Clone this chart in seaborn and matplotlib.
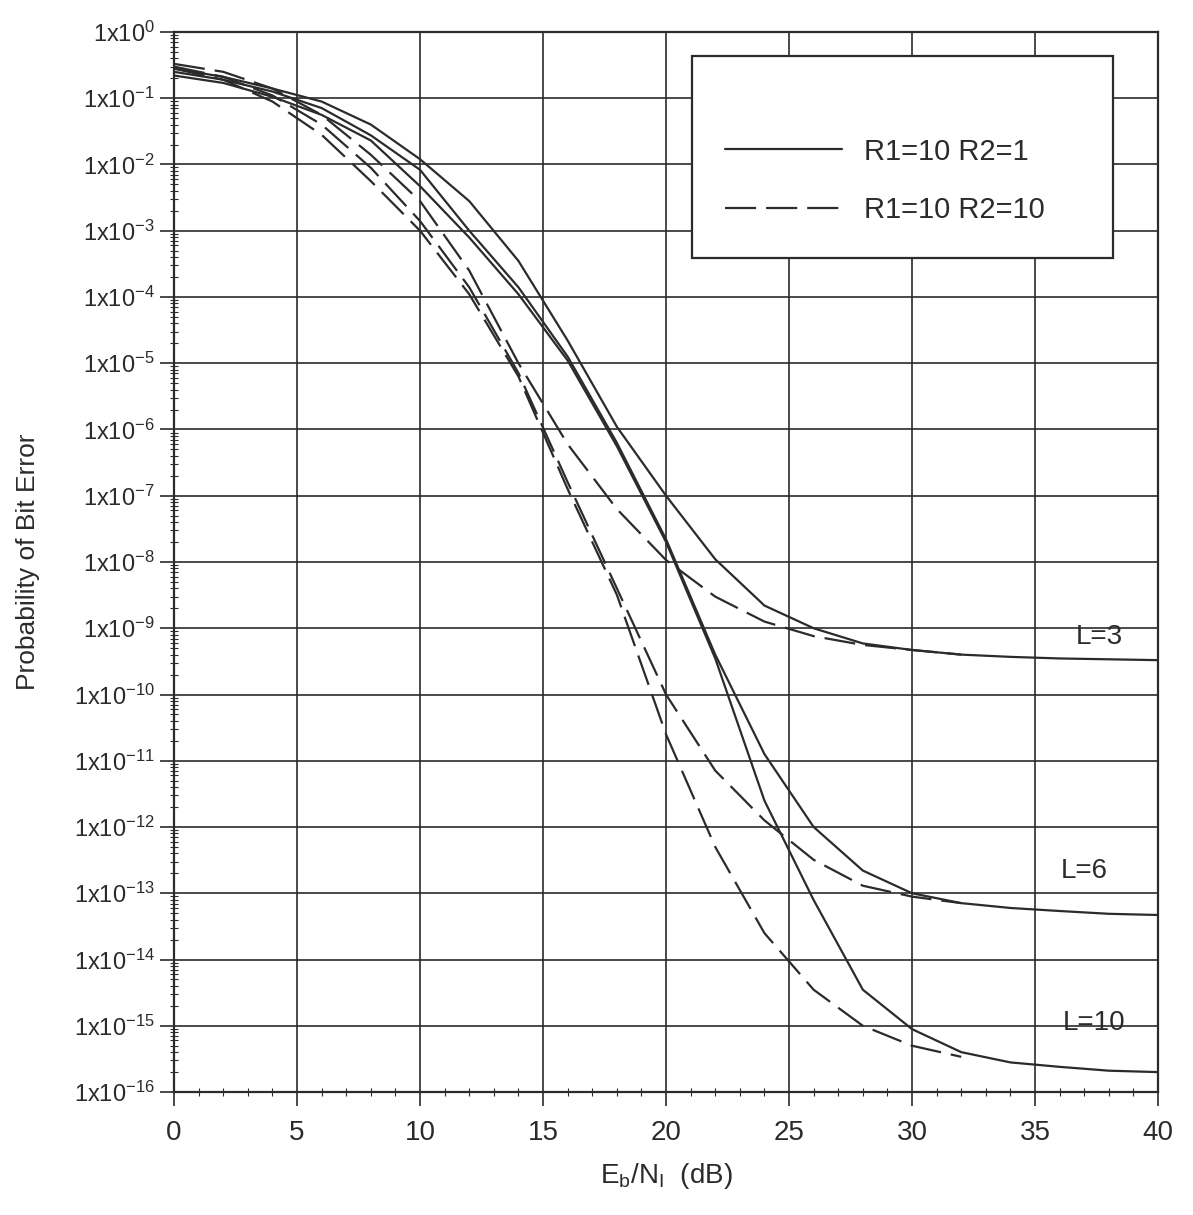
import numpy as np
import pandas as pd
import matplotlib
matplotlib.use('Agg')
import matplotlib.pyplot as plt
from matplotlib.ticker import FixedLocator, LogLocator, MultipleLocator, NullFormatter
import seaborn as sns

# Eb/NI in dB
x_solid = [0, 2, 4, 6, 8, 10, 12, 14, 16, 18, 20, 22, 24, 26, 28, 30, 32, 34, 36, 38, 40]
x_dashed = [0, 2, 4, 6, 8, 10, 12, 14, 16, 18, 20, 22, 24, 26, 28, 30, 32]

# R1=10 R2=1 (solid)
pb_l3_solid = [0.28, 0.21, 0.14, 8.9e-2, 4.0e-2, 1.2e-2, 2.8e-3, 3.5e-4, 2.2e-5, 1.1e-6, 1.0e-7,
               1.1e-8, 2.2e-9, 1.0e-9, 5.9e-10, 4.7e-10, 4.0e-10, 3.7e-10, 3.5e-10, 3.4e-10, 3.3e-10]
pb_l6_solid = [0.25, 0.19, 0.126, 7.1e-2, 2.75e-2, 8.3e-3, 1.0e-3, 1.4e-4, 1.26e-5, 6.3e-7, 2.2e-8,
               4.0e-10, 1.26e-11, 1.0e-12, 2.2e-13, 1.0e-13, 7.1e-14, 6.0e-14, 5.4e-14, 4.9e-14, 4.7e-14]
pb_l10_solid = [0.22, 0.17, 0.105, 5.6e-2, 2.3e-2, 4.7e-3, 7.9e-4, 1.1e-4, 1.1e-5, 5.6e-7, 2.0e-8,
                3.5e-10, 2.5e-12, 7.9e-14, 3.5e-15, 8.9e-16, 4.0e-16, 2.8e-16, 2.4e-16, 2.1e-16, 2.0e-16]

# R1=10 R2=10 (dashed)
pb_l3_dashed = [0.33, 0.25, 0.14, 5.6e-2, 1.4e-2, 2.8e-3, 2.5e-4, 1.0e-5, 6.0e-7, 6.3e-8, 1.07e-8,
                3.0e-9, 1.26e-9, 7.6e-10, 5.6e-10, 4.7e-10, 4.0e-10]
pb_l6_dashed = [0.30, 0.21, 0.11, 4.0e-2, 8.9e-3, 1.4e-3, 1.4e-4, 7.1e-6, 1.6e-7, 4.0e-9, 1.0e-10,
                7.1e-12, 1.26e-12, 3.2e-13, 1.3e-13, 8.9e-14, 7.1e-14]
pb_l10_dashed = [0.28, 0.19, 8.9e-2, 2.8e-2, 5.6e-3, 1.0e-3, 1.1e-4, 6.3e-6, 1.26e-7, 3.2e-9, 2.5e-11,
                 5.0e-13, 2.5e-14, 3.5e-15, 1.0e-15, 5.0e-16, 3.4e-16]

legend_labels = ['R1=10 R2=1', 'R1=10 R2=10']
curve_labels = ['L=3', 'L=6', 'L=10']
curve_label_pos = [(37.6, 7.4e-10), (37.0, 2.2e-13), (37.4, 1.1e-15)]

sns.set_style('ticks')
plt.rcParams['font.family'] = ['Liberation Sans', 'DejaVu Sans']
plt.rcParams['mathtext.fontset'] = 'custom'
plt.rcParams['mathtext.rm'] = 'Liberation Sans'

ink = '#2b2b2b'
lw = 1.6
dash = (0, (14, 4.5))

fig = plt.figure(figsize=(11.93, 12.15), dpi=100)
ax = fig.add_axes([0.1459, 0.1012, 0.8248, 0.8725])

for i, (ys, yd) in enumerate([(pb_l3_solid, pb_l3_dashed),
                              (pb_l6_solid, pb_l6_dashed),
                              (pb_l10_solid, pb_l10_dashed)]):
    sns.lineplot(x=x_solid, y=ys, ax=ax, color=ink, lw=lw,
                 label=legend_labels[0] if i == 0 else None)
    sns.lineplot(x=x_dashed, y=yd, ax=ax, color=ink, lw=lw, linestyle=dash,
                 label=legend_labels[1] if i == 0 else None)

ax.set_yscale('log')
ax.set_xlim(0, 40)
ax.set_ylim(1e-16, 1e0)

# ticks
ax.xaxis.set_major_locator(MultipleLocator(5))
ax.xaxis.set_minor_locator(MultipleLocator(1))
ydec = [10.0 ** -k for k in range(17)]
ax.yaxis.set_major_locator(FixedLocator(ydec))
ax.set_yticklabels(['$\\mathregular{1x10^{%d}}$' % (-k) for k in range(17)])
ax.yaxis.set_minor_locator(LogLocator(base=10, subs=np.arange(2, 10), numticks=100))
ax.yaxis.set_minor_formatter(NullFormatter())
ax.tick_params(which='major', direction='out', length=10, width=1.2, color=ink,
               labelcolor=ink)
ax.tick_params(axis='y', which='major', labelsize=17, pad=4)
ax.tick_params(axis='x', which='major', labelsize=20, pad=10)
ax.tick_params(which='minor', direction='inout', length=6, width=0.8, color=ink)

ax.grid(True, which='major', color=ink, lw=1.2)
for s in ax.spines.values():
    s.set_color(ink)
    s.set_linewidth(1.6)

ax.set_xlabel('$\\mathregular{E_b/N_I}$  (dB)', fontsize=20, color=ink, labelpad=11)
ax.set_ylabel('Probability of Bit Error', fontsize=19, color=ink,
              family=['Liberation Sans Narrow', 'Liberation Sans'])
ax.yaxis.set_label_coords(-0.136, 0.5)

for lab, (tx, ty) in zip(curve_labels, curve_label_pos):
    ax.text(tx, ty, lab, fontsize=20, color=ink, ha='center', va='center')

leg = ax.legend(loc='upper left', bbox_to_anchor=(0.526, 0.794, 0.428, 0.183), mode='expand',
                fontsize=21, handlelength=4.0, handletextpad=0.75, borderpad=1.15,
                borderaxespad=0, labelspacing=1.05, frameon=True, fancybox=False,
                shadow=False, title=' ', title_fontsize=14)
leg.get_frame().set_edgecolor(ink)
leg.get_frame().set_linewidth(1.6)
leg.get_frame().set_alpha(1)
for t in leg.get_texts():
    t.set_color(ink)

fig.savefig('out.png', dpi=100, facecolor='white')
